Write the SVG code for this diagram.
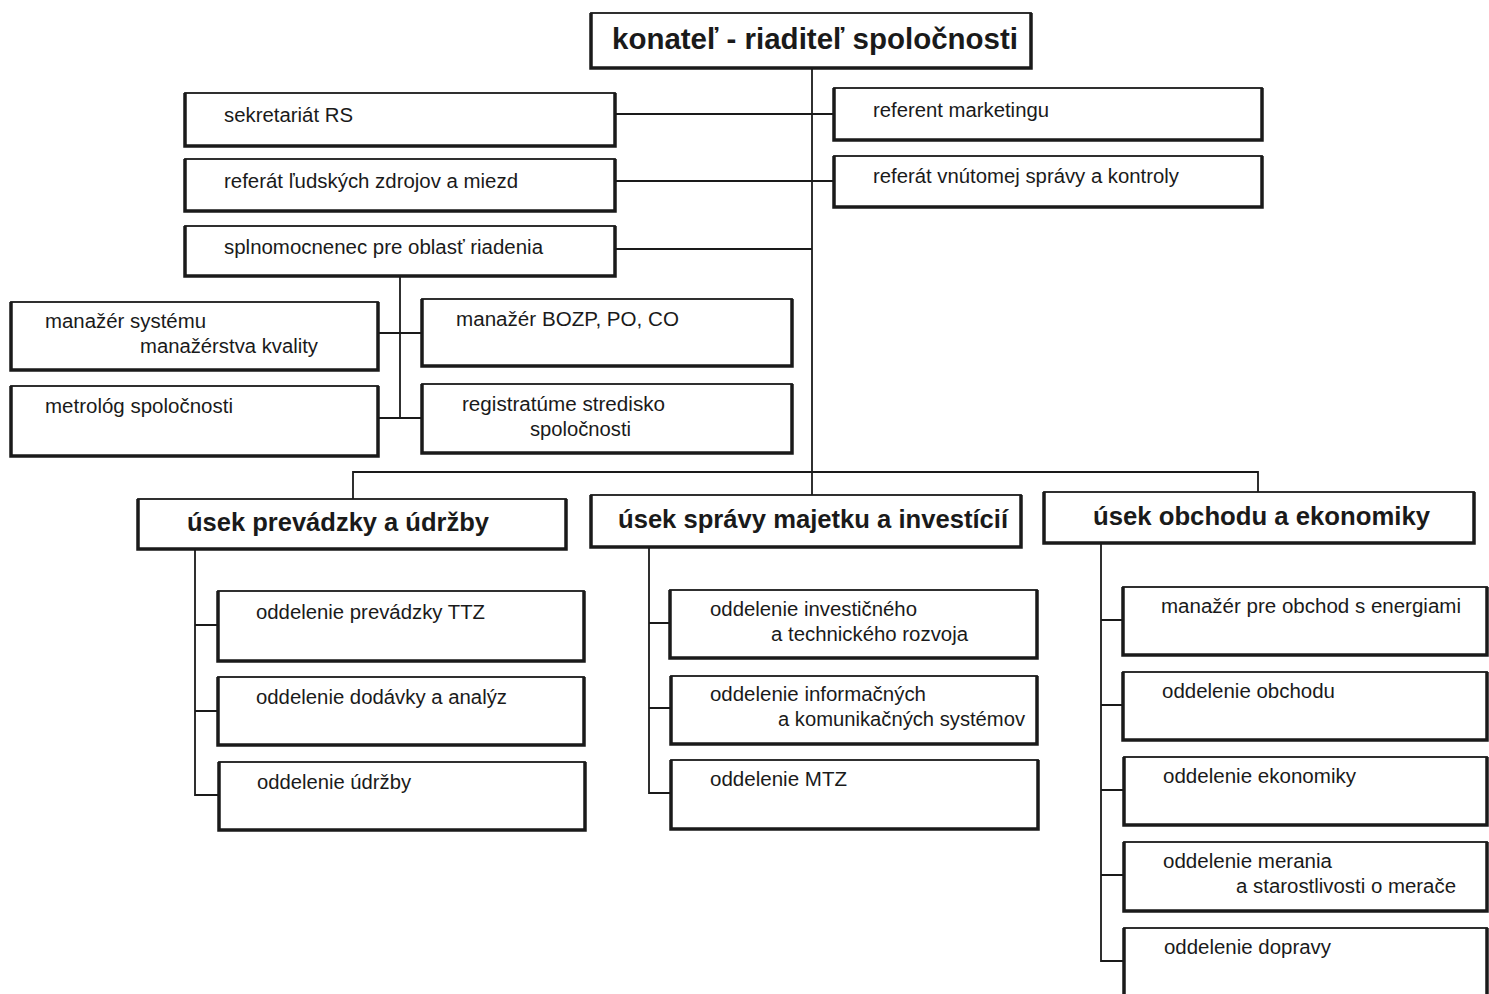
<svg xmlns="http://www.w3.org/2000/svg" width="1489" height="994" viewBox="0 0 1489 994">
<style>
.bg{fill:#ffffff}
.b{fill:#ffffff;stroke:#1a1a1a;stroke-width:1.8}
.s{fill:none;stroke:#1a1a1a;stroke-width:3.5;stroke-linejoin:miter}
.c{fill:none;stroke:#1a1a1a;stroke-width:1.8}
text{font-family:"Liberation Sans",Arial,sans-serif;fill:#1a1a1a}
.t{font-size:20px}
.d{font-size:25px;font-weight:bold}
.h{font-size:30px;font-weight:bold}
</style>
<rect class="bg" x="0" y="0" width="1489" height="994"/>
<g id="connectors">
<path class="c" d="M812 68 V495"/>
<path class="c" d="M615 114 H834"/>
<path class="c" d="M615 181 H834"/>
<path class="c" d="M615 249 H812"/>
<path class="c" d="M400 276 V418"/>
<path class="c" d="M378 333 H422"/>
<path class="c" d="M378 418 H422"/>
<path class="c" d="M353 499 V472 H1258 V492"/>
<path class="c" d="M195 549 V795 H218 M195 625 H218 M195 711 H218"/>
<path class="c" d="M649 547 V793 H671 M649 623 H670 M649 708 H671"/>
<path class="c" d="M1101 543 V961 H1124 M1101 620 H1123 M1101 705 H1123 M1101 790 H1124 M1101 875 H1124"/>
</g>
<g id="n-top"><rect class="b" x="591" y="13" width="440" height="55"/><path class="s" d="M591 13 V68 H1031 V13"/><text class="h" x="612" y="49" textLength="406" lengthAdjust="spacingAndGlyphs">konateľ - riaditeľ spoločnosti</text></g>
<g id="n-sek"><rect class="b" x="185" y="93" width="430" height="53"/><path class="s" d="M185 93 V146 H615 V93"/><text class="t" x="224" y="122" textLength="129" lengthAdjust="spacingAndGlyphs">sekretariát RS</text></g>
<g id="n-rlz"><rect class="b" x="185" y="159" width="430" height="52"/><path class="s" d="M185 159 V211 H615 V159"/><text class="t" x="224" y="188" textLength="294" lengthAdjust="spacingAndGlyphs">referát ľudských zdrojov a miezd</text></g>
<g id="n-spl"><rect class="b" x="185" y="226" width="430" height="50"/><path class="s" d="M185 226 V276 H615 V226"/><text class="t" x="224" y="254" textLength="319" lengthAdjust="spacingAndGlyphs">splnomocnenec pre oblasť riadenia</text></g>
<g id="n-mkt"><rect class="b" x="834" y="88" width="428" height="52"/><path class="s" d="M834 88 V140 H1262 V88"/><text class="t" x="873" y="117" textLength="176" lengthAdjust="spacingAndGlyphs">referent marketingu</text></g>
<g id="n-vn"><rect class="b" x="834" y="156" width="428" height="51"/><path class="s" d="M834 156 V207 H1262 V156"/><text class="t" x="873" y="183" textLength="306" lengthAdjust="spacingAndGlyphs">referát vnútomej správy a kontroly</text></g>
<g id="n-sys"><rect class="b" x="11" y="302" width="367" height="68"/><path class="s" d="M11 302 V370 H378 V302"/><text class="t" x="45" y="328" textLength="161" lengthAdjust="spacingAndGlyphs">manažér systému</text><text class="t" x="140" y="353" textLength="178" lengthAdjust="spacingAndGlyphs">manažérstva kvality</text></g>
<g id="n-met"><rect class="b" x="11" y="386" width="367" height="70"/><path class="s" d="M11 386 V456 H378 V386"/><text class="t" x="45" y="413" textLength="188" lengthAdjust="spacingAndGlyphs">metrológ spoločnosti</text></g>
<g id="n-bozp"><rect class="b" x="422" y="299" width="370" height="67"/><path class="s" d="M422 299 V366 H792 V299"/><text class="t" x="456" y="326" textLength="223" lengthAdjust="spacingAndGlyphs">manažér BOZP, PO, CO</text></g>
<g id="n-reg"><rect class="b" x="422" y="384" width="370" height="69"/><path class="s" d="M422 384 V453 H792 V384"/><text class="t" x="462" y="411" textLength="203" lengthAdjust="spacingAndGlyphs">registratúme stredisko</text><text class="t" x="530" y="436" textLength="101" lengthAdjust="spacingAndGlyphs">spoločnosti</text></g>
<g id="n-div1"><rect class="b" x="138" y="499" width="428" height="50"/><path class="s" d="M138 499 V549 H566 V499"/><text class="d" x="187" y="531" textLength="302" lengthAdjust="spacingAndGlyphs">úsek prevádzky a údržby</text></g>
<g id="n-div2"><rect class="b" x="591" y="495" width="430" height="52"/><path class="s" d="M591 495 V547 H1021 V495"/><text class="d" x="618" y="528" textLength="390" lengthAdjust="spacingAndGlyphs">úsek správy majetku a investícií</text></g>
<g id="n-div3"><rect class="b" x="1044" y="492" width="430" height="51"/><path class="s" d="M1044 492 V543 H1474 V492"/><text class="d" x="1093" y="525" textLength="337" lengthAdjust="spacingAndGlyphs">úsek obchodu a ekonomiky</text></g>
<g id="n-d1a"><rect class="b" x="218" y="591" width="366" height="70"/><path class="s" d="M218 591 V661 H584 V591"/><text class="t" x="256" y="619" textLength="229" lengthAdjust="spacingAndGlyphs">oddelenie prevádzky TTZ</text></g>
<g id="n-d1b"><rect class="b" x="218" y="677" width="366" height="68"/><path class="s" d="M218 677 V745 H584 V677"/><text class="t" x="256" y="704" textLength="251" lengthAdjust="spacingAndGlyphs">oddelenie dodávky a analýz</text></g>
<g id="n-d1c"><rect class="b" x="219" y="762" width="366" height="68"/><path class="s" d="M219 762 V830 H585 V762"/><text class="t" x="257" y="789" textLength="154" lengthAdjust="spacingAndGlyphs">oddelenie údržby</text></g>
<g id="n-d2a"><rect class="b" x="670" y="590" width="367" height="68"/><path class="s" d="M670 590 V658 H1037 V590"/><text class="t" x="710" y="616" textLength="207" lengthAdjust="spacingAndGlyphs">oddelenie investičného</text><text class="t" x="771" y="641" textLength="197" lengthAdjust="spacingAndGlyphs">a technického rozvoja</text></g>
<g id="n-d2b"><rect class="b" x="671" y="676" width="366" height="68"/><path class="s" d="M671 676 V744 H1037 V676"/><text class="t" x="710" y="701" textLength="216" lengthAdjust="spacingAndGlyphs">oddelenie informačných</text><text class="t" x="778" y="726" textLength="247" lengthAdjust="spacingAndGlyphs">a komunikačných systémov</text></g>
<g id="n-d2c"><rect class="b" x="671" y="760" width="367" height="69"/><path class="s" d="M671 760 V829 H1038 V760"/><text class="t" x="710" y="786" textLength="137" lengthAdjust="spacingAndGlyphs">oddelenie MTZ</text></g>
<g id="n-d3a"><rect class="b" x="1123" y="587" width="364" height="68"/><path class="s" d="M1123 587 V655 H1487 V587"/><text class="t" x="1161" y="613" textLength="300" lengthAdjust="spacingAndGlyphs">manažér pre obchod s energiami</text></g>
<g id="n-d3b"><rect class="b" x="1123" y="672" width="364" height="68"/><path class="s" d="M1123 672 V740 H1487 V672"/><text class="t" x="1162" y="698" textLength="173" lengthAdjust="spacingAndGlyphs">oddelenie obchodu</text></g>
<g id="n-d3c"><rect class="b" x="1124" y="757" width="363" height="68"/><path class="s" d="M1124 757 V825 H1487 V757"/><text class="t" x="1163" y="783" textLength="193" lengthAdjust="spacingAndGlyphs">oddelenie ekonomiky</text></g>
<g id="n-d3d"><rect class="b" x="1124" y="842" width="363" height="69"/><path class="s" d="M1124 842 V911 H1487 V842"/><text class="t" x="1163" y="868" textLength="169" lengthAdjust="spacingAndGlyphs">oddelenie merania</text><text class="t" x="1236" y="893" textLength="220" lengthAdjust="spacingAndGlyphs">a starostlivosti o merače</text></g>
<g id="n-d3e"><rect class="b" x="1124" y="928" width="363" height="72"/><path class="s" d="M1124 928 V1000 M1487 928 V1000"/><text class="t" x="1164" y="954" textLength="167" lengthAdjust="spacingAndGlyphs">oddelenie dopravy</text></g>
</svg>
